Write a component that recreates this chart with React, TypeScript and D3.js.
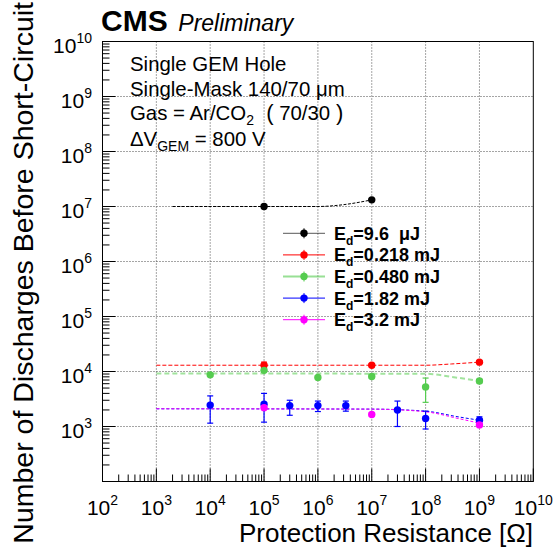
import React from 'react';
import * as d3 from 'd3';

const W = 555;
const H = 547;

// Legend labels / colours
const energies = ['9.6  μJ', '0.218 mJ', '0.480 mJ', '1.82 mJ', '3.2 mJ'];
const colors = ['#000000', '#ff0000', '#55cc4f', '#0000ff', '#ff00ff'];

// Data points: [resistance, discharges, lowErr, highErr]
const black = [
  [1e5, 1.0e7, 1.0e7, 1.0e7],
  [1e7, 1.32e7, 1.32e7, 1.32e7],
];
const red = [
  [1e5, 1.3e4, 1.12e4, 1.48e4],
  [1e7, 1.3e4, 1.22e4, 1.38e4],
  [1e9, 1.48e4, 1.4e4, 1.56e4],
];
const green = [
  [1e4, 8.7e3, 8.2e3, 9.2e3],
  [1e5, 1.05e4, 9.8e3, 1.12e4],
  [1e6, 7.8e3, 7.3e3, 8.3e3],
  [1e7, 8.1e3, 7.6e3, 8.6e3],
  [1e8, 5.25e3, 2.75e3, 7.6e3],
  [1e9, 6.7e3, 6.2e3, 7.2e3],
];
const blue = [
  [1e4, 2.45e3, 1.15e3, 3.6e3],
  [1e5, 2.55e3, 1.2e3, 4.0e3],
  [3e5, 2.4e3, 1.6e3, 3.0e3],
  [1e6, 2.4e3, 1.87e3, 2.9e3],
  [3.3e6, 2.4e3, 1.9e3, 2.9e3],
  [3e7, 2.0e3, 1.0e3, 2.9e3],
  [1e8, 1.4e3, 0.9e3, 1.9e3],
  [1e9, 1.3e3, 1.12e3, 1.5e3],
];
const magenta = [
  [1e5, 2.2e3, 2.05e3, 2.35e3],
  [1e7, 1.65e3, 1.55e3, 1.75e3],
  [1e9, 1.07e3, 1.0e3, 1.14e3],
];

// Fit curves: [resistance, discharges]
const blackFit = [[2e3, 1.0e7], [1e6, 1.0e7], [3e6, 1.08e7], [1e7, 1.32e7]];
const redFit = [[1e3, 1.3e4], [1e8, 1.3e4], [3e8, 1.37e4], [1e9, 1.48e4]];
const greenFit = [[1e3, 9.2e3], [1e8, 9.1e3], [3e8, 8.0e3], [1e9, 6.7e3]];
const blueFit = [[1e3, 2.1e3], [1e7, 2.07e3], [1e8, 1.9e3], [4e8, 1.5e3], [1e9, 1.3e3]];
const magentaFit = [[1e3, 2.1e3], [1e7, 2.07e3], [1e8, 1.85e3], [4e8, 1.4e3], [1e9, 1.15e3]];

const seriesData = [black, red, green, blue, magenta];
const fitData = [blackFit, redFit, greenFit, blueFit, magentaFit];
const fitDash = ['3,1.5', '4,2', '5,3', '3,2', '3,2'];
const fitWidth = [1, 1, 2, 1, 1];
const fitOpacity = [1, 1, 0.55, 1, 1];

const xExps = [2, 3, 4, 5, 6, 7, 8, 9, 10];
const yExps = [3, 4, 5, 6, 7, 8, 9, 10];

const FONT = "'Liberation Sans', Arial, Helvetica, sans-serif";

export default function App() {
  const L = 102.5, R = 533.3, T = 41.5, B = 481.5;
  const x = d3.scaleLog().domain([1e2, 1e10]).range([L, R]);
  const y = d3.scaleLog().domain([1e2, 1e10]).range([B, T]);

  const majors = d3.range(2, 11).map((e) => Math.pow(10, e));
  const minors: number[] = [];
  for (let e = 2; e < 10; e++) for (let m = 2; m <= 9; m++) minors.push(m * Math.pow(10, e));

  const line = d3
    .line<number[]>()
    .x((d) => x(d[0]))
    .y((d) => y(d[1]))
    .curve(d3.curveMonotoneX);

  const legendY0 = 233.3;
  const legendDY = 21.6;

  return (
    <svg
      width={W}
      height={H}
      style={{ position: 'absolute', left: 0, top: 0, background: '#fff' }}
      fontFamily={FONT}
    >
      <rect x={0} y={0} width={W} height={H} fill="#fff" />
      {/* grid */}
      <g stroke="#000" strokeWidth={1} strokeDasharray="1,2" opacity={0.7}>
        {majors.slice(1, -1).map((v) => (
          <line key={'gx' + v} x1={x(v)} x2={x(v)} y1={T} y2={B} />
        ))}
        {majors.slice(1, -1).map((v) => (
          <line key={'gy' + v} x1={L} x2={R} y1={y(v)} y2={y(v)} />
        ))}
      </g>
      {/* frame */}
      <rect x={L} y={T} width={R - L} height={B - T} fill="none" stroke="#000" strokeWidth={1} />
      {/* ticks */}
      <g stroke="#000" strokeWidth={1}>
        {majors.map((v) => (
          <line key={'tx' + v} x1={x(v)} x2={x(v)} y1={B} y2={B - 13} />
        ))}
        {minors.map((v) => (
          <line key={'mx' + v} x1={x(v)} x2={x(v)} y1={B} y2={B - 7} />
        ))}
        {majors.map((v) => (
          <line key={'ty' + v} x1={L} x2={L + 13} y1={y(v)} y2={y(v)} />
        ))}
        {minors.map((v) => (
          <line key={'my' + v} x1={L} x2={L + 7} y1={y(v)} y2={y(v)} />
        ))}
      </g>
      {/* x tick labels */}
      {xExps.map((e) => (
        <text key={'xl' + e} x={x(Math.pow(10, e))} y={515} fontSize={21} textAnchor="middle" fill="#000">
          10
          <tspan fontSize={14} dy={-10}>
            {e}
          </tspan>
        </text>
      ))}
      {/* y tick labels */}
      {yExps.map((e) => (
        <text key={'yl' + e} x={92} y={y(Math.pow(10, e)) + 11} fontSize={21} textAnchor="end" fill="#000">
          10
          <tspan fontSize={14} dy={-10}>
            {e}
          </tspan>
        </text>
      ))}
      {/* axis titles */}
      <text x={533} y={542} fontSize={26} textAnchor="end" fill="#000">
        Protection Resistance [Ω]
      </text>
      <text
        transform="translate(33,2) rotate(-90)"
        fontSize={28.5}
        textAnchor="end"
        fill="#000"
      >
        Number of Discharges Before Short-Circuit
      </text>
      {/* header */}
      <text x={101} y={30.7} fontSize={30} fontWeight="bold" fill="#000">
        CMS
      </text>
      <text x={178.3} y={30.7} fontSize={23} fontStyle="italic" fill="#000">
        Preliminary
      </text>
      {/* info text */}
      <g fontSize={20.4} fill="#000">
        <text x={130} y={71}>Single GEM Hole</text>
        <text x={130} y={95.5}>Single-Mask 140/70 μm</text>
        <text x={130} y={120} xmlSpace="preserve">
          Gas = Ar/CO
          <tspan fontSize={14} dy={5}>2</tspan>
          <tspan dy={-5} fontSize={22} fontWeight={300}>{'  ('}</tspan>
          <tspan>{' 70/30 '}</tspan>
          <tspan fontSize={22} fontWeight={300}>)</tspan>
        </text>
        <text x={130} y={146}>
          ΔV
          <tspan fontSize={14} dy={5}>GEM</tspan>
          <tspan dy={-5}>{' = 800 V'}</tspan>
        </text>
      </g>
      {/* fits */}
      {fitData.map((f, i) => (
        <path
          key={'fit' + i}
          d={line(f as number[][]) || ''}
          fill="none"
          stroke={colors[i]}
          strokeWidth={fitWidth[i]}
          strokeDasharray={fitDash[i]}
          opacity={fitOpacity[i]}
        />
      ))}
      {/* points */}
      {seriesData.map((s, i) => (
        <g key={'s' + i} stroke={colors[i]} fill={colors[i]}>
          {s.map((p, j) => (
            <g key={j}>
              <line x1={x(p[0])} x2={x(p[0])} y1={y(p[2])} y2={y(p[3])} strokeWidth={1.2} />
              <line x1={x(p[0]) - 3} x2={x(p[0]) + 3} y1={y(p[2])} y2={y(p[2])} strokeWidth={1.2} />
              <line x1={x(p[0]) - 3} x2={x(p[0]) + 3} y1={y(p[3])} y2={y(p[3])} strokeWidth={1.2} />
              <circle cx={x(p[0])} cy={y(p[1])} r={3.7} stroke="none" />
            </g>
          ))}
        </g>
      ))}
      {/* legend */}
      {energies.map((lab, i) => {
        const ly = legendY0 + i * legendDY;
        return (
          <g key={'lg' + i}>
            <line x1={283} x2={325} y1={ly} y2={ly} stroke={colors[i]} strokeWidth={i === 2 ? 2 : 1} opacity={i === 2 ? 0.6 : i === 0 ? 0.65 : 1} />
            <line x1={304} x2={304} y1={ly - 5} y2={ly + 5} stroke={colors[i]} strokeWidth={1} />
            <circle cx={304} cy={ly} r={3.7} fill={colors[i]} />
            <text x={334} y={ly + 6.5} fontSize={18} fontWeight="bold" fill="#000" xmlSpace="preserve">
              E
              <tspan fontSize={12} dy={5}>d</tspan>
              <tspan dy={-5}>{'=' + lab}</tspan>
            </text>
          </g>
        );
      })}
    </svg>
  );
}
